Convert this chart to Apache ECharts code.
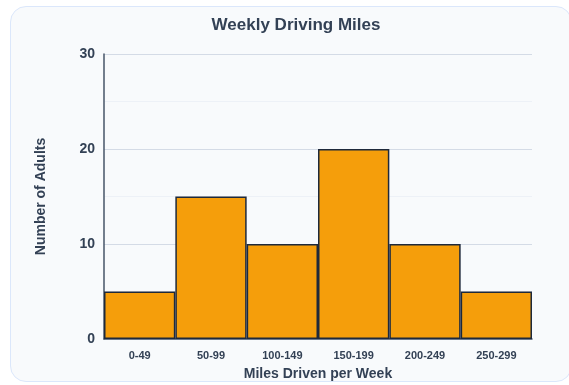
<!DOCTYPE html>
<html>
<head>
<meta charset="utf-8">
<script src="https://cdn.jsdelivr.net/npm/echarts@6/dist/echarts.min.js"></script>
<style>
  html, body { margin: 0; padding: 0; background: #ffffff; }
  #card {
    position: absolute; left: 10px; top: 6px; width: 562px; height: 376px;
    background: #f8fafc; border: 1.5px solid #dbe7fb; border-radius: 16px;
    box-sizing: border-box;
  }
  #chart { position: absolute; left: 0; top: 0; width: 569px; height: 385px; }
</style>
</head>
<body>
<div id="card"></div>
<div id="chart"></div>
<script>
// Histogram of weekly miles driven
const categories = ['0-49', '50-99', '100-149', '150-199', '200-249', '250-299'];
const adults = [5, 15, 10, 20, 10, 5];
const yTicks = [0, 10, 20, 30];

const font = 'Helvetica, Arial, "Liberation Sans", sans-serif';
const chart = echarts.init(document.getElementById('chart'), null, { renderer: 'canvas' });

chart.setOption({
  backgroundColor: 'transparent',
  animation: false,
  title: {
    text: 'Weekly Driving Miles',
    left: 291, top: 12, textAlign: 'center',
    textStyle: { fontFamily: font, fontSize: 17, fontWeight: 'bold', color: '#334155' }
  },
  grid: { left: 104, right: 37, top: 54, bottom: 46, containLabel: false, outerBoundsMode: 'none' },
  xAxis: {
    type: 'category',
    data: categories,
    name: 'Miles Driven per Week',
    nameLocation: 'middle',
    nameGap: 28,
    nameTextStyle: { fontFamily: font, fontSize: 14, fontWeight: 'bold', color: '#334155' },
    axisLine: { show: true, lineStyle: { color: '#475569', width: 1.5 } },
    axisTick: { show: false },
    axisLabel: { fontFamily: font, fontSize: 11, fontWeight: 'bold', color: '#334155', margin: 11 },
    splitLine: { show: false }
  },
  yAxis: {
    type: 'value',
    min: 0, max: 30, interval: 5,
    name: 'Number of Adults',
    nameLocation: 'middle',
    nameGap: 56,
    nameTextStyle: { fontFamily: font, fontSize: 14, fontWeight: 'bold', color: '#334155' },
    axisLine: { show: true, lineStyle: { color: '#475569', width: 1.5 } },
    axisTick: { show: false },
    axisLabel: {
      fontFamily: font, fontSize: 14, fontWeight: 'bold', color: '#334155', margin: 9,
      formatter: v => (yTicks.includes(v) ? String(v) : '')
    },
    splitLine: { show: true, lineStyle: { color: ['#d4dbe6', '#edf1f7'], width: 1 } }
  },
  series: [{
    type: 'bar',
    data: adults,
    barCategoryGap: 0,
    barGap: 0,
    itemStyle: { color: '#f59e0b', borderColor: '#1e293b', borderWidth: 1.5 }
  }]
});
</script>
</body>
</html>
